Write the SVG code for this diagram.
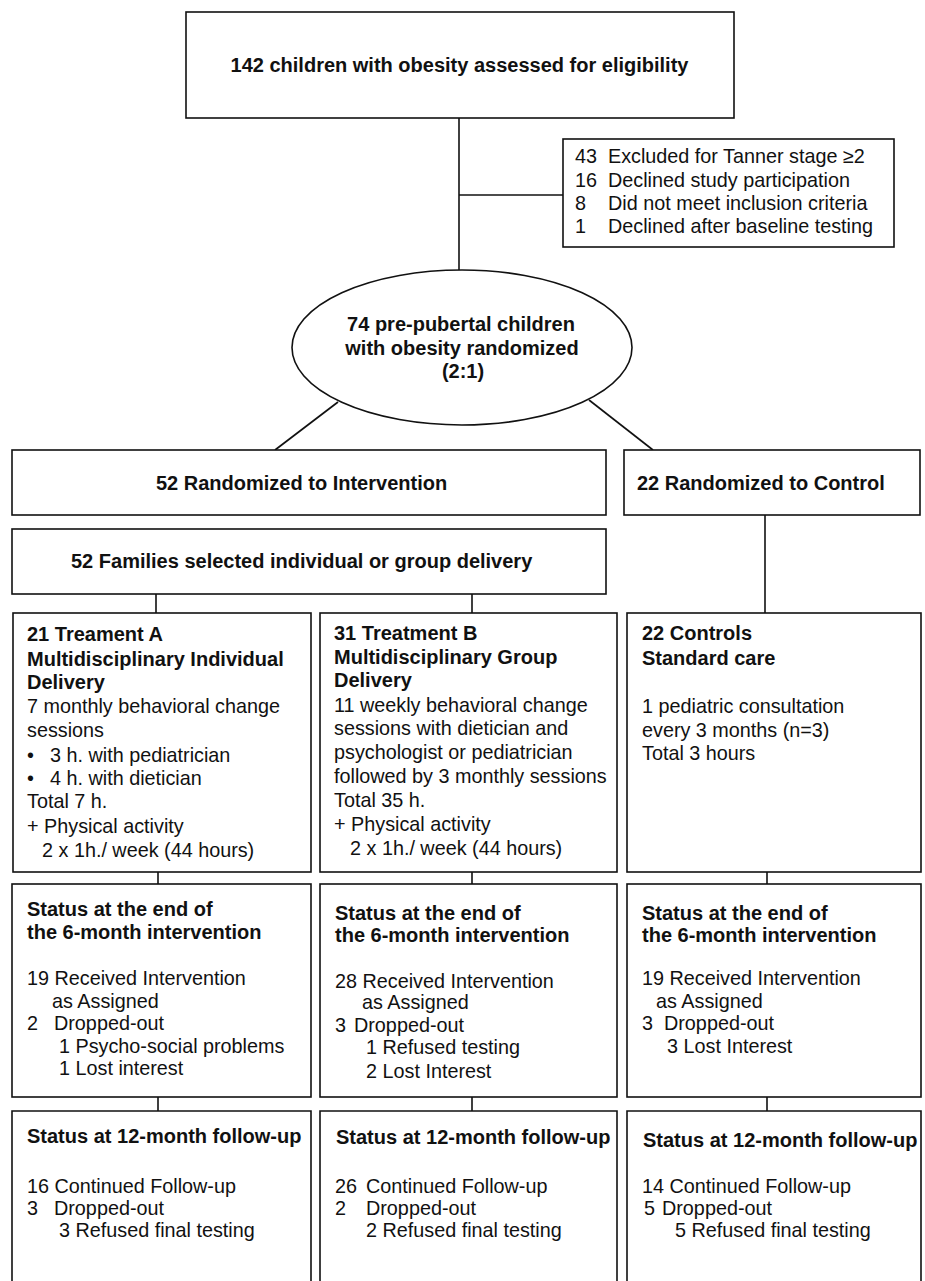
<svg xmlns="http://www.w3.org/2000/svg" width="925" height="1281" viewBox="0 0 925 1281">
<style>
.box{fill:#fff;stroke:#111;stroke-width:1.6}
.ln{fill:none;stroke:#111;stroke-width:1.6}
.b{font-family:"Liberation Sans",Arial,sans-serif;font-weight:bold;font-size:20px;fill:#111}
.r{font-family:"Liberation Sans",Arial,sans-serif;font-size:19.8px;fill:#111}
.c{text-anchor:middle}
</style>
<rect width="925" height="1281" fill="#fff"/>
<g id="connectors">
<path class="ln" d="M459 118V270"/>
<path class="ln" d="M459 195H563"/>
<path class="ln" d="M338 402L275 450"/>
<path class="ln" d="M589 400L653 450"/>
<path class="ln" d="M156 594V613M472 594V613"/>
<path class="ln" d="M765 515V613"/>
<path class="ln" d="M158 872V884M472 872V884M767 872V884"/>
<path class="ln" d="M158 1097V1111M472 1097V1111M767 1097V1111"/>
</g>
<g id="assessed">
<rect class="box" x="186" y="12" width="548" height="106"/>
<text class="b c" x="459.5" y="72">142 children with obesity assessed for eligibility</text>
</g>
<g id="excluded">
<rect class="box" x="563" y="139" width="331" height="108"/>
<text class="r" y="163"><tspan x="575">43</tspan><tspan x="608">Excluded for Tanner stage ≥2</tspan></text>
<text class="r" y="187"><tspan x="575">16</tspan><tspan x="608">Declined study participation</tspan></text>
<text class="r" y="210"><tspan x="575">8</tspan><tspan x="608">Did not meet inclusion criteria</tspan></text>
<text class="r" y="233"><tspan x="575">1</tspan><tspan x="608">Declined after baseline testing</tspan></text>
</g>
<g id="randomized">
<ellipse class="box" cx="462" cy="347.5" rx="170" ry="77.5"/>
<text class="b c" x="461" y="331">74 pre-pubertal children</text>
<text class="b c" x="462" y="355">with obesity randomized</text>
<text class="b c" x="463" y="378">(2:1)</text>
</g>
<g id="intervention">
<rect class="box" x="12" y="450" width="594" height="65"/>
<text class="b" x="156" y="490">52 Randomized to Intervention</text>
</g>
<g id="control">
<rect class="box" x="624" y="450" width="296" height="65"/>
<text class="b" x="637" y="490">22 Randomized to Control</text>
</g>
<g id="families">
<rect class="box" x="12" y="529" width="594" height="65"/>
<text class="b" x="71" y="568">52 Families selected individual or group delivery</text>
</g>
<g id="treatmentA">
<rect class="box" x="13" y="613" width="298" height="259"/>
<text class="b" x="27" y="641">21 Treament A</text>
<text class="b" x="27" y="666">Multidisciplinary Individual</text>
<text class="b" x="27" y="689">Delivery</text>
<text class="r" x="27" y="713">7 monthly behavioral change</text>
<text class="r" x="27" y="737">sessions</text>
<text class="r" y="762"><tspan x="27">•</tspan><tspan x="50">3 h. with pediatrician</tspan></text>
<text class="r" y="785"><tspan x="27">•</tspan><tspan x="50">4 h. with dietician</tspan></text>
<text class="r" x="27" y="808">Total 7 h.</text>
<text class="r" x="27" y="833">+ Physical activity</text>
<text class="r" x="42" y="857">2 x 1h./ week (44 hours)</text>
</g>
<g id="treatmentB">
<rect class="box" x="320" y="613" width="297" height="259"/>
<text class="b" x="334" y="640">31 Treatment B</text>
<text class="b" x="334" y="664">Multidisciplinary Group</text>
<text class="b" x="334" y="687">Delivery</text>
<text class="r" x="334" y="712">11 weekly behavioral change</text>
<text class="r" x="334" y="735">sessions with dietician and</text>
<text class="r" x="334" y="759">psychologist or pediatrician</text>
<text class="r" x="334" y="783">followed by 3 monthly sessions</text>
<text class="r" x="334" y="807">Total 35 h.</text>
<text class="r" x="334" y="831">+ Physical activity</text>
<text class="r" x="350" y="855">2 x 1h./ week (44 hours)</text>
</g>
<g id="controls">
<rect class="box" x="627" y="613" width="294" height="259"/>
<text class="b" x="642" y="640">22 Controls</text>
<text class="b" x="642" y="665">Standard care</text>
<text class="r" x="642" y="713">1 pediatric consultation</text>
<text class="r" x="642" y="737">every 3 months (n=3)</text>
<text class="r" x="642" y="760">Total 3 hours</text>
</g>
<g id="statusA6">
<rect class="box" x="12" y="884" width="299" height="213"/>
<text class="b" x="27" y="916">Status at the end of</text>
<text class="b" x="27" y="939">the 6-month intervention</text>
<text class="r" x="27" y="985">19 Received Intervention</text>
<text class="r" x="52" y="1008">as Assigned</text>
<text class="r" y="1030"><tspan x="27">2</tspan><tspan x="54">Dropped-out</tspan></text>
<text class="r" x="59" y="1053">1 Psycho-social problems</text>
<text class="r" x="59" y="1075">1 Lost interest</text>
</g>
<g id="statusB6">
<rect class="box" x="320" y="884" width="297" height="213"/>
<text class="b" x="335" y="920">Status at the end of</text>
<text class="b" x="335" y="942">the 6-month intervention</text>
<text class="r" x="335" y="988">28 Received Intervention</text>
<text class="r" x="362" y="1009">as Assigned</text>
<text class="r" y="1032"><tspan x="335">3</tspan><tspan x="354">Dropped-out</tspan></text>
<text class="r" x="366" y="1054">1 Refused testing</text>
<text class="r" x="366" y="1078">2 Lost Interest</text>
</g>
<g id="statusC6">
<rect class="box" x="627" y="884" width="294" height="213"/>
<text class="b" x="642" y="920">Status at the end of</text>
<text class="b" x="642" y="942">the 6-month intervention</text>
<text class="r" x="642" y="985">19 Received Intervention</text>
<text class="r" x="656" y="1008">as Assigned</text>
<text class="r" y="1030"><tspan x="642">3</tspan><tspan x="664">Dropped-out</tspan></text>
<text class="r" x="667" y="1053">3 Lost Interest</text>
</g>
<g id="statusA12">
<path class="box" d="M12 1290V1111H311V1290"/>
<text class="b" x="27" y="1143">Status at 12-month follow-up</text>
<text class="r" x="27" y="1193">16 Continued Follow-up</text>
<text class="r" y="1215"><tspan x="27">3</tspan><tspan x="54">Dropped-out</tspan></text>
<text class="r" x="59" y="1237">3 Refused final testing</text>
</g>
<g id="statusB12">
<path class="box" d="M320 1290V1111H617V1290"/>
<text class="b" x="336" y="1144">Status at 12-month follow-up</text>
<text class="r" y="1193"><tspan x="335">26</tspan><tspan x="366">Continued Follow-up</tspan></text>
<text class="r" y="1215"><tspan x="335">2</tspan><tspan x="366">Dropped-out</tspan></text>
<text class="r" x="366" y="1237">2 Refused final testing</text>
</g>
<g id="statusC12">
<path class="box" d="M627 1290V1111H921V1290"/>
<text class="b" x="643" y="1147">Status at 12-month follow-up</text>
<text class="r" x="642" y="1193">14 Continued Follow-up</text>
<text class="r" y="1215"><tspan x="644">5</tspan><tspan x="662">Dropped-out</tspan></text>
<text class="r" x="675" y="1237">5 Refused final testing</text>
</g>
</svg>
